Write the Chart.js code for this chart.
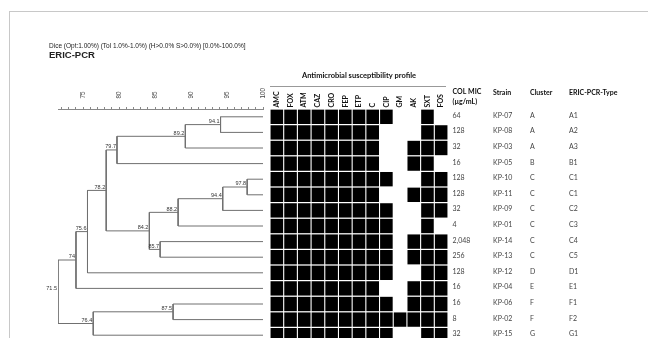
<!DOCTYPE html>
<html>
<head>
<meta charset="utf-8">
<script src="https://cdn.jsdelivr.net/npm/chart.js@4.4.1/dist/chart.umd.min.js"></script>
<style>
  html, body { margin: 0; padding: 0; background: #fff; overflow: hidden; }
  #wrap { position: relative; width: 648px; height: 338px; overflow: hidden; }
  #frame { position: absolute; left: 9px; top: 11px; right: -2px; bottom: -2px; border-top: 1px solid #c8c8c8; border-left: 1px solid #c8c8c8; }
  canvas { position: absolute; left: 0; top: 0; }
</style>
</head>
<body>
<div id="wrap">
  <div id="frame"></div>
  <canvas id="dendroChart" width="648" height="348" style="width:648px;height:348px"></canvas>
  <canvas id="profileChart" width="648" height="348" style="width:648px;height:348px"></canvas>
</div>
<script>
// Datos de las cepas (orden del dendrograma, de arriba hacia abajo)
const strains = ['KP-07', 'KP-08', 'KP-03', 'KP-05', 'KP-10', 'KP-11', 'KP-09', 'KP-01', 'KP-14', 'KP-13', 'KP-12', 'KP-04', 'KP-06', 'KP-02', 'KP-15'];
const colMic = ['64', '128', '32', '16', '128', '128', '32', '4', '2,048', '256', '128', '16', '16', '8', '32'];
const clusters = ['A', 'A', 'A', 'B', 'C', 'C', 'C', 'C', 'C', 'C', 'D', 'E', 'F', 'F', 'G'];
const ericTypes = ['A1', 'A2', 'A3', 'B1', 'C1', 'C1', 'C2', 'C3', 'C4', 'C5', 'D1', 'E1', 'F1', 'F2', 'G1'];

// Perfil de susceptibilidad: 1 = celda negra
const drugs = ['AMC', 'FOX', 'ATM', 'CAZ', 'CRO', 'FEP', 'ETP', 'C', 'CIP', 'GM', 'AK', 'SXT', 'FOS'];
const profile = [
    [1, 1, 1, 1, 1, 1, 1, 1, 1, 0, 0, 1, 0],
    [1, 1, 1, 1, 1, 1, 1, 1, 0, 0, 0, 1, 1],
    [1, 1, 1, 1, 1, 1, 1, 1, 0, 0, 1, 1, 1],
    [1, 1, 1, 1, 1, 1, 1, 1, 0, 0, 1, 1, 0],
    [1, 1, 1, 1, 1, 1, 1, 1, 1, 0, 0, 1, 1],
    [1, 1, 1, 1, 1, 1, 1, 1, 0, 0, 1, 1, 1],
    [1, 1, 1, 1, 1, 1, 1, 1, 1, 0, 0, 1, 1],
    [1, 1, 1, 1, 1, 1, 1, 1, 1, 0, 0, 1, 0],
    [1, 1, 1, 1, 1, 1, 1, 1, 1, 0, 1, 1, 1],
    [1, 1, 1, 1, 1, 1, 1, 1, 1, 0, 1, 1, 1],
    [1, 1, 1, 1, 1, 1, 1, 1, 1, 0, 0, 1, 1],
    [1, 1, 1, 1, 1, 1, 1, 1, 0, 0, 1, 1, 1],
    [1, 1, 1, 1, 1, 1, 1, 1, 1, 0, 1, 1, 1],
    [1, 1, 1, 1, 1, 1, 1, 1, 1, 1, 1, 1, 1],
    [1, 1, 1, 1, 1, 1, 1, 1, 1, 0, 0, 1, 1]
];

// Dendrograma: similitud de cada nodo y sus hijos (numero = fila, 'nX' = nodo X)
const nodeSims = [94.1, 89.2, 79.7, 97.8, 94.4, 88.2, 85.7, 84.2, 78.2, 75.6, 74, 87.5, 76.4, 71.5];
const nodeKids = [[0, 1], ['n0', 2], ['n1', 3], [4, 5], ['n3', 6], ['n4', 7], [8, 9], ['n5', 'n6'], ['n2', 'n7'], ['n8', 10], ['n9', 11], [12, 13], ['n11', 14], ['n10', 'n12']];
const simTickLabels = [75, 80, 85, 90, 95, 100];
const leafSim = 100;

const titleLine = 'Dice (Opt:1.00%) (Tol 1.0%-1.0%) (H>0.0% S>0.0%) [0.0%-100.0%]';

// Posiciones de los nodos
const nodeY = [];
function kidPos(k) {
    if (typeof k === 'number') return { x: leafSim, y: k };
    const n = +k.slice(1);
    return { x: nodeSims[n], y: nodeY[n] };
}
nodeKids.forEach((kids, i) => {
    const a = kidPos(kids[0]), b = kidPos(kids[1]);
    nodeY[i] = (a.y + b.y) / 2;
});

const dendroSets = nodeKids.map((kids, i) => {
    const a = kidPos(kids[0]), b = kidPos(kids[1]), s = nodeSims[i];
    return {
        data: [{ x: a.x, y: a.y }, { x: s, y: a.y }, { x: s, y: b.y }, { x: b.x, y: b.y }],
        showLine: true,
        borderColor: '#707070',
        borderWidth: 1,
        pointRadius: 0,
        tension: 0,
        fill: false
    };
});

// Texto vertical (de abajo hacia arriba)
function verticalText(ctx, text, x, y) {
    ctx.save();
    ctx.translate(x, y);
    ctx.rotate(-Math.PI / 2);
    ctx.textAlign = 'left';
    ctx.textBaseline = 'middle';
    ctx.fillText(text, 0, 0);
    ctx.restore();
}

// Etiquetas de nodos, eje y titulo
const dendroLabels = {
    id: 'dendroLabels',
    afterDraw(chart) {
        const { ctx, scales: { x, y } } = chart;
        ctx.save();
        ctx.font = '5.5px Arial, "Liberation Sans"';
        ctx.fillStyle = '#333';
        ctx.textAlign = 'right';
        ctx.textBaseline = 'bottom';
        nodeSims.forEach((s, i) => {
            ctx.fillText(String(s), x.getPixelForValue(s) - 1, y.getPixelForValue(nodeY[i]) - 0.5);
        });
        ctx.font = '6.3px Arial, "Liberation Sans"';
        ctx.fillStyle = '#444';
        simTickLabels.forEach(v => verticalText(ctx, String(v), x.getPixelForValue(v), x.bottom - 10.5));
        ctx.textAlign = 'left';
        ctx.textBaseline = 'alphabetic';
        ctx.fillStyle = '#222';
        ctx.font = '6.5px Arial, "Liberation Sans"';
        ctx.fillText(titleLine, 49, 48);
        ctx.font = 'bold 9.5px Arial, "Liberation Sans"';
        ctx.fillText('ERIC-PCR', 49, 58);
        ctx.restore();
    }
};

const dendroChart = new Chart(document.getElementById('dendroChart').getContext('2d'), {
    type: 'scatter',
    data: { datasets: dendroSets },
    options: {
        responsive: false,
        animation: false,
        layout: { padding: { left: 58, right: 385, top: 79, bottom: 5 } },
        plugins: { legend: { display: false }, tooltip: { enabled: false } },
        scales: {
            x: {
                type: 'linear',
                position: 'top',
                min: 71.5,
                max: 100,
                afterBuildTicks: (scale) => {
                    const t = [];
                    for (let v = 72; v <= 100; v++) t.push({ value: v });
                    scale.ticks = t;
                },
                ticks: { display: false },
                grid: { drawOnChartArea: false, tickLength: 2, color: '#888' },
                border: { color: '#888' },
                afterFit: (scale) => { scale.height = 30; }
            },
            y: { type: 'linear', display: false, min: -0.5, max: 14.5, reverse: true }
        }
    },
    plugins: [dendroLabels]
});

// Mapa de celdas negras (barras flotantes)
const heatSets = profile.map((row, r) => ({
    data: row.map(v => v ? [r - 0.46, r + 0.46] : null),
    backgroundColor: '#000',
    borderWidth: 0,
    grouped: false,
    categoryPercentage: 1,
    barPercentage: 0.92
}));

const tableText = {
    id: 'tableText',
    afterDraw(chart) {
        const { ctx, chartArea, scales: { x, y } } = chart;
        ctx.save();
        ctx.fillStyle = '#111';
        ctx.font = 'bold 7.5px Lato';
        ctx.textAlign = 'center';
        ctx.textBaseline = 'middle';
        ctx.fillText('Antimicrobial susceptibility profile', (chartArea.left + chartArea.right) / 2, 76);
        ctx.strokeStyle = '#999';
        ctx.lineWidth = 1;
        ctx.beginPath();
        ctx.moveTo(chartArea.left, 86.5);
        ctx.lineTo(chartArea.right - 2, 86.5);
        ctx.stroke();

        // nombres de antimicrobianos
        ctx.font = 'bold 7px Lato';
        drugs.forEach((d, j) => verticalText(ctx, d, x.getPixelForValue(j), chartArea.top - 1.5));

        ctx.textAlign = 'left';
        ctx.fillText('COL MIC', 452.5, 91.5);
        ctx.fillText('(µg/mL)', 452.5, 101.5);
        ctx.fillText('Strain', 493, 92.5);
        ctx.fillText('Cluster', 530, 92.5);
        ctx.fillText('ERIC-PCR-Type', 569, 92.5);

        ctx.font = '7px Lato';
        ctx.fillStyle = '#444';
        strains.forEach((s, i) => {
            const py = y.getPixelForValue(i) - 1.2;
            ctx.fillText(colMic[i], 452.5, py);
            ctx.fillText(s, 493, py);
            ctx.fillText(clusters[i], 530, py);
            ctx.fillText(ericTypes[i], 569, py);
        });
        ctx.restore();
    }
};

const profileChart = new Chart(document.getElementById('profileChart').getContext('2d'), {
    type: 'bar',
    data: { labels: drugs, datasets: heatSets },
    options: {
        responsive: false,
        animation: false,
        layout: { padding: { left: 270, right: 200, top: 79, bottom: 5 } },
        plugins: { legend: { display: false }, tooltip: { enabled: false } },
        scales: {
            x: {
                type: 'category',
                position: 'top',
                grid: { display: false },
                border: { display: false },
                ticks: { display: false },
                afterFit: (scale) => { scale.height = 30; }
            },
            y: { type: 'linear', display: false, min: -0.5, max: 14.5, reverse: true }
        }
    },
    plugins: [tableText]
});
</script>
</body>
</html>
